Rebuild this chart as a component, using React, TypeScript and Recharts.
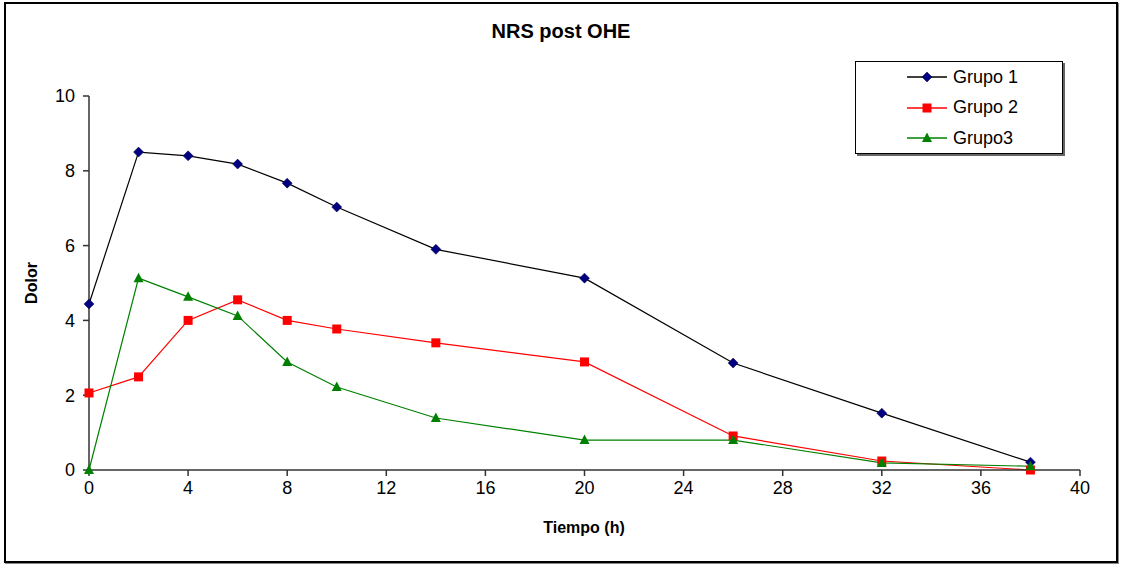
import React from "react";
import { LineChart, Line, XAxis, YAxis } from "recharts";

const times = [0, 2, 4, 6, 8, 10, 14, 20, 26, 32, 38];
const grupo1 = [4.44, 8.5, 8.4, 8.18, 7.67, 7.03, 5.9, 5.13, 2.86, 1.52, 0.21];
const grupo2 = [2.06, 2.49, 4.0, 4.55, 4.0, 3.77, 3.4, 2.89, 0.91, 0.24, 0.0];
const grupo3 = [0.0, 5.13, 4.63, 4.12, 2.89, 2.22, 1.39, 0.8, 0.8, 0.19, 0.1];
const xTicks = [0, 4, 8, 12, 16, 20, 24, 28, 32, 36, 40];
const yTicks = [0, 2, 4, 6, 8, 10];
const seriesNames = ["Grupo 1", "Grupo 2", "Grupo3"];

const data = times.map((t, i) => ({ t, g1: grupo1[i], g2: grupo2[i], g3: grupo3[i] }));

const FONT = "'Liberation Sans', Arial, sans-serif";

const Diamond = (props: any) => {
  const { cx, cy } = props;
  if (cx == null || cy == null) return null;
  const r = 5;
  return <polygon points={`${cx},${cy - r} ${cx + r},${cy} ${cx},${cy + r} ${cx - r},${cy}`} fill="#000080" stroke="#000040" strokeWidth={0.5} />;
};
const Square = (props: any) => {
  const { cx, cy } = props;
  if (cx == null || cy == null) return null;
  const r = 4.5;
  return <rect x={cx - r} y={cy - r} width={2 * r} height={2 * r} fill="#FF0000" />;
};
const Triangle = (props: any) => {
  const { cx, cy } = props;
  if (cx == null || cy == null) return null;
  return <polygon points={`${cx},${cy - 5.5} ${cx + 5},${cy + 4} ${cx - 5},${cy + 4}`} fill="#008000" />;
};

const legendItems = [
  { name: seriesNames[0], color: "#000000", Marker: Diamond },
  { name: seriesNames[1], color: "#FF0000", Marker: Square },
  { name: seriesNames[2], color: "#008000", Marker: Triangle },
];

const LegendBox = () => (
  <div style={{ position: "absolute", left: 855, top: 61, width: 208, height: 93, border: "1px solid #000", boxShadow: "2px 2px 0 #666", background: "#fff", boxSizing: "border-box", fontFamily: FONT, fontSize: 18 }}>
    {legendItems.map((it, i) => (
      <div key={it.name} style={{ position: "absolute", left: 50, top: 3 + i * 30.5, height: 24, display: "flex", alignItems: "center" }}>
        <svg width={42} height={24} style={{ display: "block" }}>
          <line x1={1} y1={12} x2={41} y2={12} stroke={it.color} strokeWidth={1.3} />
          <it.Marker cx={21} cy={12} />
        </svg>
        <span style={{ marginLeft: 5, color: "#000" }}>{it.name}</span>
      </div>
    ))}
  </div>
);

export default function App() {
  return (
    <div style={{ position: "absolute", left: 0, top: 0, width: 1122, height: 564, background: "#fff" }}>
      <div style={{ position: "absolute", left: 4, top: 2, width: 1110, height: 557, border: "2px solid #000", boxShadow: "1px 1px 0 #888" }} />
      <div style={{ position: "absolute", left: 0, top: 20, width: 1122, textAlign: "center", fontFamily: FONT, fontWeight: "bold", fontSize: 20 }}>NRS post OHE</div>
      <div style={{ position: "absolute", left: 0, top: 519, width: 1168, textAlign: "center", fontFamily: FONT, fontWeight: "bold", fontSize: 16 }}>Tiempo (h)</div>
      <div style={{ position: "absolute", left: 32, top: 283, transform: "translate(-50%, -50%) rotate(-90deg)", fontFamily: FONT, fontWeight: "bold", fontSize: 16 }}>Dolor</div>
      <div style={{ position: "absolute", left: 0, top: 0 }}>
        <LineChart width={1122} height={564} data={data} margin={{ top: 96, right: 42, bottom: 64, left: 29 }}>
          <XAxis dataKey="t" type="number" domain={[0, 40]} ticks={xTicks} interval={0} stroke="#333" strokeWidth={1.5}
            tickSize={6} tickMargin={5} height={30}
            tick={{ fill: "#000", fontSize: 18, fontFamily: FONT }} />
          <YAxis type="number" domain={[0, 10]} ticks={yTicks} interval={0} stroke="#333" strokeWidth={1.5} width={60}
            tickSize={6} tickMargin={8}
            tick={{ fill: "#000", fontSize: 18, fontFamily: FONT }} />
          <Line dataKey="g1" name={seriesNames[0]} stroke="#000000" strokeWidth={1.2} dot={<Diamond />} isAnimationActive={false} />
          <Line dataKey="g2" name={seriesNames[1]} stroke="#FF0000" strokeWidth={1.2} dot={<Square />} isAnimationActive={false} />
          <Line dataKey="g3" name={seriesNames[2]} stroke="#008000" strokeWidth={1.2} dot={<Triangle />} isAnimationActive={false} />
        </LineChart>
      </div>
      <LegendBox />
    </div>
  );
}
